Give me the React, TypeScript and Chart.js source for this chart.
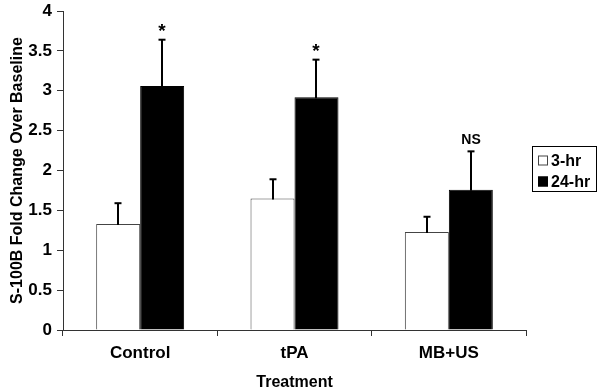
import React, { useEffect, useRef } from "react";
import { Chart, registerables } from "chart.js";

Chart.register(...registerables);

const categories = ["Control", "tPA", "MB+US"];
const series3hr = [1.33, 1.65, 1.23];
const series24hr = [3.06, 2.92, 1.76];
const err3hr = [0.26, 0.24, 0.19];
const err24hr = [0.58, 0.47, 0.48];
const annotations3hr = ["", "", ""];
const annotations24hr = ["*", "*", "NS"];
const seriesLabels = ["3-hr", "24-hr"];

const FONT = "'Liberation Sans', Arial, sans-serif";

const errorBarPlugin = {
  id: "errorBars",
  afterDatasetsDraw(chart: any) {
    const ctx = chart.ctx;
    const y = chart.scales.y;
    chart.data.datasets.forEach((ds: any, di: number) => {
      const meta = chart.getDatasetMeta(di);
      ds.data.forEach((v: number, i: number) => {
        const el = meta.data[i];
        const x = Math.round(el.x);
        const top = y.getPixelForValue(v + ds.errors[i]);
        const base = y.getPixelForValue(v);
        ctx.save();
        ctx.strokeStyle = "#000";
        ctx.lineWidth = 2;
        ctx.beginPath();
        ctx.moveTo(x, base + 1);
        ctx.lineTo(x, top);
        ctx.stroke();
        ctx.beginPath();
        ctx.moveTo(x - 3.5, top);
        ctx.lineTo(x + 3.5, top);
        ctx.stroke();
        const note = ds.notes[i];
        if (note) {
          ctx.fillStyle = "#000";
          ctx.textAlign = "center";
          ctx.textBaseline = "alphabetic";
          if (note === "*") {
            ctx.font = `bold 19px ${FONT}`;
            ctx.fillText(note, x, top - 3);
          } else {
            ctx.font = `bold 14px ${FONT}`;
            ctx.fillText(note, x, top - 7);
          }
        }
        ctx.restore();
      });
    });
  },
};

const boxLegendPlugin = {
  id: "boxLegend",
  afterDraw(chart: any) {
    const ctx = chart.ctx;
    ctx.save();
    ctx.strokeStyle = "#000";
    ctx.lineWidth = 1;
    ctx.strokeRect(532.5, 146.5, 64, 45);
    chart.data.datasets.forEach((ds: any, i: number) => {
      const cy = 160.5 + i * 21;
      ctx.fillStyle = ds.backgroundColor;
      ctx.fillRect(538, cy - 5, 10, 10);
      ctx.strokeStyle = ds.borderColor;
      ctx.strokeRect(538.5, cy - 4.5, 9, 9);
      ctx.fillStyle = "#000";
      ctx.font = `bold 16px ${FONT}`;
      ctx.textAlign = "left";
      ctx.textBaseline = "middle";
      ctx.fillText(ds.label, 551, cy + 1);
    });
    ctx.restore();
  },
};

export default function App() {
  const ref = useRef<HTMLCanvasElement>(null);
  useEffect(() => {
    if (!ref.current) return;
    const chart = new Chart(ref.current, {
      type: "bar",
      data: {
        labels: categories,
        datasets: [
          {
            label: seriesLabels[0],
            data: series3hr,
            errors: err3hr,
            notes: annotations3hr,
            backgroundColor: "#ffffff",
            borderColor: "#444444",
            borderWidth: 1,
            categoryPercentage: 0.57,
            barPercentage: 1.0,
          } as any,
          {
            label: seriesLabels[1],
            data: series24hr,
            errors: err24hr,
            notes: annotations24hr,
            backgroundColor: "#000000",
            borderColor: "#000000",
            borderWidth: 1,
            categoryPercentage: 0.57,
            barPercentage: 1.0,
          } as any,
        ],
      },
      options: {
        responsive: false,
        animation: false,
        layout: { padding: { top: 11, right: 74, left: 0, bottom: 0 } },
        plugins: {
          legend: { display: false },
          tooltip: { enabled: false },
        },
        scales: {
          x: {
            grid: {
              offset: true,
              drawOnChartArea: false,
              drawTicks: true,
              tickLength: 6,
              color: "#333",
            },
            border: { display: true, color: "#333", width: 1 },
            ticks: {
              color: "#000",
              padding: 7,
              font: { family: FONT, size: 17, weight: "bold" },
            },
            title: {
              display: true,
              text: "Treatment",
              color: "#000",
              padding: { top: 0, bottom: 0 },
              font: { family: FONT, size: 16, weight: "bold" },
            },
            afterFit(scale: any) {
              scale.height = 62;
              scale.paddingLeft = 0;
              scale.paddingRight = 0;
            },
          },
          y: {
            min: 0,
            max: 4,
            ticks: {
              stepSize: 0.5,
              color: "#000",
              padding: 5,
              font: { family: FONT, size: 17, weight: "bold" },
              callback: (v: any) => String(Number(v)),
            },
            grid: {
              drawOnChartArea: false,
              drawTicks: true,
              tickLength: 6,
              color: "#333",
            },
            border: { display: true, color: "#333", width: 1 },
            title: {
              display: true,
              text: "S-100B Fold Change Over Baseline",
              color: "#000",
              padding: { top: 8, bottom: 0 },
              font: { family: FONT, size: 16, weight: "bold" },
            },
            afterFit(scale: any) {
              scale.width = 63;
              scale.paddingTop = 0;
              scale.paddingBottom = 0;
            },
          },
        },
      } as any,
      plugins: [errorBarPlugin, boxLegendPlugin],
    });
    return () => chart.destroy();
  }, []);
  return (
    <div style={{ position: "fixed", left: 0, top: 0, width: 600, height: 392, background: "#fff" }}>
      <canvas ref={ref} width={600} height={392} style={{ display: "block" }} />
    </div>
  );
}
